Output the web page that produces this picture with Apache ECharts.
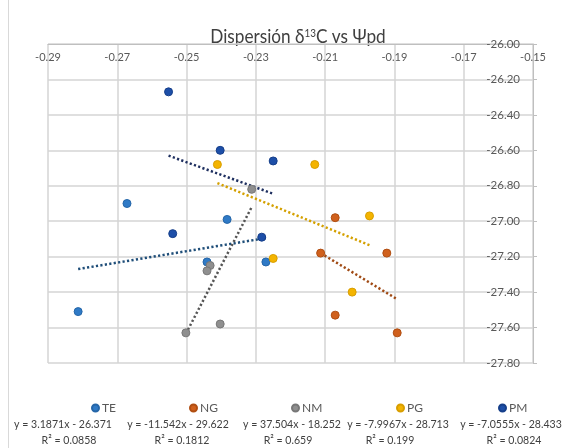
<!DOCTYPE html>
<html><head><meta charset="utf-8">
<script src="https://cdn.jsdelivr.net/npm/echarts@6/dist/echarts.min.js"></script>
<style>html,body{margin:0;padding:0;background:#fff}#c{width:576px;height:448px}</style>
</head><body><div id="c"></div>
<script>
const FONT = 'Lato, "Liberation Sans", sans-serif';

// series names
const seriesNames = ['TE', 'NG', 'NM', 'PG', 'PM'];

// scatter data [x, y]
const teData = [[-0.2813, -27.51], [-0.2672, -26.90], [-0.2383, -26.99], [-0.2441, -27.23], [-0.2271, -27.23]];
const ngData = [[-0.2071, -26.98], [-0.2113, -27.18], [-0.1922, -27.18], [-0.2071, -27.53], [-0.1892, -27.63]];
const nmData = [[-0.2312, -26.82], [-0.2432, -27.25], [-0.2441, -27.28], [-0.2403, -27.58], [-0.2502, -27.63]];
const pgData = [[-0.2411, -26.68], [-0.2130, -26.68], [-0.1972, -26.97], [-0.2250, -27.21], [-0.2022, -27.40]];
const pmData = [[-0.2552, -26.27], [-0.2403, -26.60], [-0.2250, -26.66], [-0.2540, -27.07], [-0.2283, -27.09]];

// trendline end points
const teTrend = [[-0.2813, -27.27], [-0.2271, -27.095]];
const ngTrend = [[-0.2113, -27.18], [-0.1892, -27.44]];
const nmTrend = [[-0.2502, -27.635], [-0.2312, -26.92]];
const pgTrend = [[-0.2411, -26.785], [-0.1972, -27.135]];
const pmTrend = [[-0.2552, -26.63], [-0.2250, -26.845]];

// trendline labels
const eqLabels = ['y = 3.1871x - 26.371', 'y = -11.542x - 29.622', 'y = 37.504x - 18.252', 'y = -7.9967x - 28.713', 'y = -7.0555x - 28.433'];
const r2Labels = ['R² = 0.0858', 'R² = 0.1812', 'R² = 0.659', 'R² = 0.199', 'R² = 0.0824'];

// axis ranges
const xMin = -0.29, xMax = -0.15, xStep = 0.02;
const yMin = -27.8, yMax = -26.0, yStep = 0.2;

const dataSets = [teData, ngData, nmData, pgData, pmData];
const trendSets = [teTrend, ngTrend, nmTrend, pgTrend, pmTrend];
const fills = ['#2f7ac6', '#d0601c', '#8f8f8f', '#f4b400', '#1d4fa8'];
const borders = ['#2566a8', '#b04e12', '#777777', '#d89e00', '#163f8a'];
const trendColors = ['#1f4e79', '#a04a14', '#555555', '#d4a000', '#1f3060'];

const legendLeft = [86, 184, 286, 391, 493];
const eqX = [63, 178, 292, 398, 511];
const r2X = [69, 182, 288, 390, 514];

const series = [];
seriesNames.forEach((n, i) => {
  series.push({
    name: n, type: 'scatter', data: dataSets[i], symbolSize: 8, z: 5,
    itemStyle: { color: fills[i], borderColor: borders[i], borderWidth: 1, opacity: 1 }
  });
});
seriesNames.forEach((n, i) => {
  series.push({
    name: n + ' trend', type: 'line', data: trendSets[i], symbol: 'none', z: 3,
    lineStyle: { color: trendColors[i], width: 2.5, type: [2.2, 2.3], cap: 'butt' },
    silent: true
  });
});

const graphic = [
  { type: 'line', shape: { x1: 8.5, y1: 0, x2: 8.5, y2: 448 }, style: { stroke: '#d9d9d9', lineWidth: 1 } },
  {
    type: 'text', x: 298, y: 37, scaleX: 0.86,
    style: {
      text: 'Dispersión δ{s|13}C vs Ψpd',
      font: '20px ' + FONT, fill: '#404040', textAlign: 'center', textVerticalAlign: 'middle',
      rich: { s: { fontFamily: FONT, fontSize: 11.5, fill: '#404040', verticalAlign: 'top', lineHeight: 12 } }
    }
  }
];
eqLabels.forEach((t, i) => {
  graphic.push({ type: 'text', x: eqX[i], y: 424, scaleX: 0.88, style: { text: t, font: '12px ' + FONT, fill: '#404040', textAlign: 'center', textVerticalAlign: 'middle' } });
  graphic.push({ type: 'text', x: r2X[i], y: 440, scaleX: 0.88, style: { text: r2Labels[i], font: '12px ' + FONT, fill: '#404040', textAlign: 'center', textVerticalAlign: 'middle' } });
});

const chart = echarts.init(document.getElementById('c'), null, { renderer: 'canvas' });
chart.setOption({
  animation: false,
  backgroundColor: '#ffffff',
  legend: seriesNames.map((n, i) => ({
    data: [n], left: legendLeft[i], top: 397, icon: 'circle', itemWidth: 7, itemHeight: 7, itemGap: 0,
    textStyle: { fontFamily: FONT, fontSize: 12, color: '#595959', padding: [0, 0, 0, -2] },
    selectedMode: false
  })),
  grid: { left: 48, right: 43, top: 44, bottom: 85 },
  xAxis: {
    type: 'value', min: xMin, max: xMax, interval: xStep, position: 'top',
    axisLine: { show: true, lineStyle: { color: '#bfbfbf', width: 1 } },
    axisTick: { show: false },
    axisLabel: { inside: true, margin: 8, fontFamily: FONT, fontSize: 11, color: '#595959', formatter: v => v.toFixed(2) },
    splitLine: { show: true, lineStyle: { color: '#d4d4d4', width: 1.5 } }
  },
  yAxis: {
    type: 'value', min: yMin, max: yMax, interval: yStep, position: 'right',
    axisLine: { show: true, lineStyle: { color: '#bfbfbf', width: 1 } },
    axisTick: { show: true, inside: false, length: 4, lineStyle: { color: '#bfbfbf' } },
    axisLabel: { inside: true, margin: 13, fontFamily: FONT, fontSize: 11.5, color: '#595959', formatter: v => v.toFixed(2) },
    splitLine: { show: true, lineStyle: { color: '#d4d4d4', width: 1.5 } }
  },
  graphic: graphic,
  series: series
});
</script></body></html>
